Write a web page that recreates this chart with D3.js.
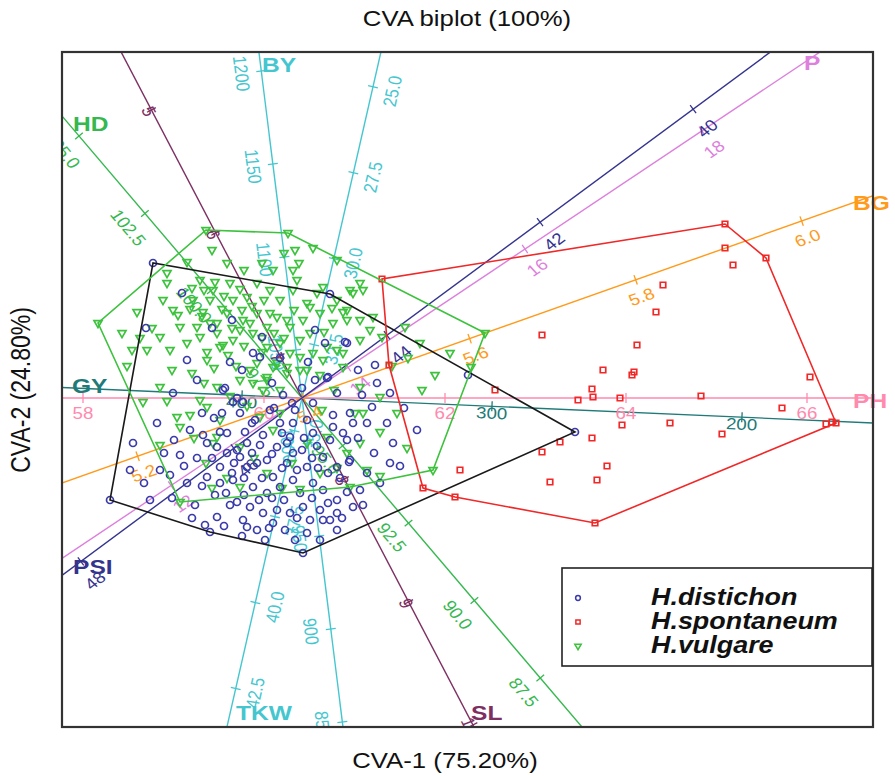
<!DOCTYPE html>
<html>
<head>
<meta charset="utf-8">
<script src="https://cdn.jsdelivr.net/npm/d3@7"></script>
<style>
    body {margin: 0; background: #fff;}
    text {font-family: "Liberation Sans", Arial, sans-serif;}
</style>
</head>
<body>
<svg id="chart" width="895" height="776"></svg>
<script>
// ---- CVA scores per group (CVA-1, CVA-2) ----
const distichon = [
    [-14.9,13.5],[2.8,10.4],[27.3,-3.4],[0.1,-15.5],[-19.2,-10.2],[-9.2,-13.4],
    [-15.6,7.0],[-4.0,6.1],[1.3,6.8],[4.5,5.5],[-4.9,4.5],[-7.2,3.6],[2.5,2.0],
    [-12.9,0.5],[-7.9,0.8],[-6.9,-0.4],[-5.9,-0.4],[1.1,-0.5],[3.1,-1.7],[4.8,-1.5],
    [-9.9,-3.7],[-8.2,-3.4],[-7.5,-3.5],[-5.7,-3.4],[-3.9,-3.7],[-2.2,-2.5],[-0.9,-2.5],[0.5,-2.2],
    [-16.9,-4.5],[-9.5,-4.5],[-8.5,-4.9],[-7.5,-5.5],[-6.5,-5.2],[-5.5,-4.5],[-4.2,-4.7],[-2.5,-4.9],
    [-1.2,-3.9],[1.1,-3.5],[3.1,-2.9],[4.5,-4.2],
    [-13.2,-7.7],[-9.5,-7.9],[-8.2,-6.9],[-6.2,-5.9],[-5.5,-6.9],[-4.5,-6.5],[-3.5,-6.2],[-2.9,-7.9],
    [-0.9,-5.5],[0.5,-6.9],[2.1,-5.9],[3.5,-6.9],[4.8,-6.2],
    [-8.2,-8.5],[-6.9,-8.2],[-4.9,-8.9],[-3.5,-9.5],[-2.2,-8.9],[-0.9,-8.2],[-0.2,-9.5],[1.1,-8.5],[2.1,-9.2],
    [-6.5,-10.4],[-5.2,-10.9],[-3.9,-11.5],[-2.5,-11.2],[-1.2,-11.5],[0.1,-10.9],[1.8,-11.2],[3.5,-10.2],[5.1,-10.9],
    [-8.5,-11.9],[-5.9,-12.2],[-2.9,-12.5],[2.8,-12.2],[-9.7,-12.7],[-5.5,-12.9],[-4.5,-13.2],[0.8,-12.2],
    [2.1,-12.2],[3.5,-11.5],[3.5,-13.2],[1.8,-14.2],
    [5.8,-9.2],[6.5,-7.5],[7.8,-8.5],[8.8,-6.5],[4.1,-3.5],[6.5,-2.5],[8.5,-2.5],[9.1,-4.5],
    [-4.2,4.1],[-7.7,1.0],[-6.5,0.0],[1.3,1.8],[2.6,2.1],[2.3,5.5],[4.3,5.6],[5.6,2.8],[7.3,3.3],[7.5,1.5],
    [7.0,-0.9],[5.1,-2.5],[-7.0,7.8],
    [16.6,2.3],[11.5,-3.2],[4.7,-6.4],[4.5,-9.4],[6.1,-10.7],
    [-1.9,0.3],[-0.7,-1.2],[-3.2,-1.2],[-4.7,-2.2],[-12.2,-5.7],[-11.2,-3.2],[-14.2,-7.2],[-1.7,-13.2],
    [-0.7,-14.2],[-3.7,-14.2],[-7.2,-10.7],[-8.7,-9.7],[-10.7,-10.7],[-15.2,-10.2],[-17.2,-7.2],
    [-10.5,-6.0],[-11.5,-8.5],[-3.0,-10.0],[0.5,-13.5],[-1.5,-6.5],[1.5,-4.8],[-6.0,-13.8],[-2.0,-3.5],
    [0.2,-4.0],[3.8,-8.0],[-8.0,-1.5],[-10.0,-1.5],[-5.0,-2.5],
    [-6.8,-6.5],[-5.0,-5.5],[-3.0,-5.6],[-1.5,-4.5],[0.0,-5.2],[1.0,-6.0],[2.6,-7.5],[-7.0,-7.5],
    [-5.8,-8.0],[-4.0,-8.0],[-2.0,-7.0],[-0.5,-7.2],[1.6,-7.0],[2.8,-4.2],[-9.0,-6.0],[-10.0,-8.8],
    [-7.6,-9.5],[-5.8,-9.7],[-4.3,-10.2],[-1.8,-10.2],[-0.5,-12.0],[1.0,-10.0],[2.6,-10.5],[4.0,-12.0],
    [-3.3,-13.0],[-7.8,-12.8],[-11.0,-12.0],[-13.0,-10.0],[-12.8,-4.2],[-14.5,-2.5],[-10.5,1.8],[-6.0,2.8],
    [-3.0,1.5],[-1.0,-0.5],[0.0,1.0],[3.5,0.5],[6.0,0.3],[8.8,0.5],[10.2,-1.0],[9.8,-6.8],[7.2,-5.5],
    [5.6,-4.0],[-2.8,-1.0],[-8.8,-2.0],[-6.2,-1.5],[-11.8,-6.8],[-13.8,-5.5],[-15.8,-8.5],[-2.2,4.0],
    [0.6,3.6],[-11.5,3.8],[-9.0,7.0],[-12.0,10.5]
]

const spontaneum = [
    [8.0,11.9],[8.7,3.3],[12.1,-9.0],[15.3,-9.9],[29.3,-12.5],[42.3,17.4],[46.4,14.0],[53.4,-2.5],
    [52.4,-2.6],[53.0,-2.4],[42.3,15.0],[43.1,13.3],[36.1,11.3],[35.4,8.6],[33.5,5.3],[33.0,2.3],[33.2,2.6],
    [24.0,6.3],[30.1,2.8],[29.0,0.9],[29.1,0.1],[27.6,-0.2],[31.8,0.0],[19.3,0.8],[39.9,0.2],[50.8,2.1],
    [48.0,-1.0],[36.8,-2.5],[42.0,-3.6],[32.0,-2.7],[29.0,-4.0],[25.8,-4.4],[24.0,-5.4],[30.5,-6.8],
    [15.8,-7.2],[24.8,-8.4],[29.5,-8.2]
]

const vulgare = [
    [-20.4,7.5],[-9.6,16.8],[-1.4,16.5],[18.3,6.5],[13.1,-7.2],[-12.2,-10.4],[4.8,-8.9],
    [-16.5,8.6],[-13.9,9.8],[-13.5,11.5],[-12.4,8.3],[-10.9,9.8],[-9.9,8.6],[-12.2,7.1],[-10.5,7.1],
    [-8.5,7.5],[-7.5,8.5],[-6.9,9.8],[-5.5,10.1],[-4.5,8.5],[-8.9,10.8],[-7.2,11.5],[-4.5,11.5],
    [-3.2,10.8],[-2.2,9.8],[-0.9,10.8],[0.5,9.5],[2.1,11.1],[3.5,9.8],[4.8,10.8],
    [-17.0,4.8],[-15.5,4.8],[-14.2,6.1],[-13.2,4.8],[-11.5,5.5],[-10.2,6.1],[-9.5,3.8],[-8.2,5.1],
    [-6.9,5.8],[-6.2,6.8],[-4.9,6.5],[-3.5,7.1],[-2.5,8.1],[-1.2,7.1],[0.1,7.8],[1.8,8.5],[3.1,7.5],[4.5,7.8],
    [-3.5,5.1],[-2.2,5.5],[-1.2,4.5],[-0.2,5.8],[1.1,4.5],[2.5,5.1],[4.1,4.5],[-4.5,3.5],[-2.9,3.1],
    [-1.5,3.1],[-0.2,2.8],
    [-14.2,1.1],[-15.9,-0.4],[-12.5,-1.9],[-11.2,-1.7],[-12.2,-2.9],[-8.5,1.1],[-6.2,1.8],[-4.9,1.5],
    [-3.5,1.8],[-2.2,0.8],[-10.2,-0.2],
    [-8.5,-3.9],[-6.2,-4.9],[-4.2,-1.9],[-2.2,-1.5],[0.5,-4.5],[2.5,-3.9],[4.5,-5.5],[-6.2,-8.9],
    [-3.5,-7.5],[1.8,-7.5],
    [-0.7,14.8],[1.1,15.0],[-0.9,12.8],[-2.9,12.8],[-0.5,11.8],[-13.5,12.5],[-10.2,11.8],[-8.7,11.6],
    [3.5,13.8],[-12.9,8.8],[-9.2,9.8],[-5.9,7.8],[-9.2,7.5],[-8.5,6.5],[-7.9,5.3],[-9.5,4.6],[-3.2,8.5],
    [-1.5,7.8],[0.8,9.1],[5.1,10.5],[6.1,10.8],[4.5,8.8],[5.8,7.8],[6.8,6.8],[8.0,6.1],
    [3.5,4.8],[2.1,3.8],[-0.2,4.1],[-1.5,2.5],[-2.5,3.5],[-3.5,2.1],[-5.2,2.8],[-3.9,0.8],[-9.5,-0.9],
    [-8.2,-2.2],[0.5,2.8],[1.8,2.3],[5.8,1.1],[4.1,3.1],[7.8,0.1],[6.1,-1.5],[7.8,-3.4],[5.8,-4.5],
    [5.8,11.5],[4.1,8.6],[7.1,8.1],[5.8,5.8],[10.6,4.0],[13.3,2.3],[16.9,3.1],[10.3,7.1],[5.3,-1.5],
    [6.5,-7.2],[7.8,-7.8],[-0.2,-9.1],[-8.9,-4.5],[-2.9,-3.2],[-14.2,-4.7],
    [-11.0,11.0],[-9.8,10.8],[-7.8,10.2],[-6.2,10.9],[-5.0,9.2],[-3.8,9.8],[-6.0,8.8],[-8.0,8.9],
    [-10.0,8.2],[-11.2,8.9],[-7.0,7.0],[-5.2,7.5],[-4.0,6.0],[-5.8,5.2],[-7.4,4.3],[-8.8,3.0],[-6.6,3.2],
    [-4.0,4.6],[-2.8,6.5],[-1.8,6.0],[-0.8,8.8],[0.8,6.5],[2.2,6.6],[3.0,9.0],[1.5,10.5],[-0.3,13.5],
    [-1.8,14.5],[-4.0,13.5],[-5.8,12.8],[-7.5,13.5],[-9.0,14.8],[-11.5,13.6],[-15.0,7.0],[-16.2,6.0],
    [-18.0,6.5],[-17.5,3.2],[-13.0,2.8],[-11.0,2.5],[-9.8,1.5],[-7.2,0.2],[-5.5,-0.8],[-13.5,-0.3],
    [-10.8,-4.0],[-9.6,-6.5],[-7.5,-8.0],[-4.8,-6.0],[-1.0,-6.5],[2.0,-1.2],[3.2,0.8],[9.0,3.2],
    [11.8,5.5],[14.8,4.5],[12.0,0.8],[9.5,-1.5],[10.5,-5.0],[3.5,-7.0],[-2.0,-9.0],[-9.0,-9.0]
]

const group_names = ["H.distichon", "H.spontaneum", "H.vulgare"]

// ---- calibrated biplot axes ----
// angle: direction of increasing values (deg, CVA space); origin: value at the centre;
// units: CVA units per unit of the variable
const axis_names   = ["BY", "TKW", "HD", "SL", "GY", "PH", "BG", "P", "PSI"]
const axis_angles  = [97.1, -102.85, 130.4, -62.4, 177.5, 0, 19.5, 33.74, -143.55]
const axis_origins = [1024.2, 34.05, 96.54, 7.342, 376, 60.42, 5.398, 13.48, 45.11]
const axis_units   = [0.1874, 3.527, 4.067, 13.88, 0.2502, 9.05, 88.05, 10.64, 9.515]
const axis_ticks   = [
    [850, 900, 950, 1000, 1050, 1100, 1150, 1200],
    [25, 27.5, 30, 32.5, 35, 37.5, 40, 42.5],
    [87.5, 90, 92.5, 95, 97.5, 100, 102.5, 105],
    [5, 6, 7, 8, 9, 10],
    [200, 300, 400],
    [58, 60, 62, 64, 66],
    [5.2, 5.4, 5.6, 5.8, 6.0],
    [12, 14, 16, 18],
    [40, 42, 44, 46, 48]
]
const axis_formats = ["d", ".1f", ".1f", "d", "d", "d", ".1f", "d", "d"]

// ---- styles ----
const axis_colors = ["#45c6cf", "#45c6cf", "#35b84f", "#7d2f62", "#1f7a78", "#ff8aae", "#ff9a1a", "#dd80dd", "#34348f"]
const label_side  = [-20, -20, -22, 3, -7, 15, 18, 22, -24]   // tick label offset along the normal (px)
const name_offset = [[3,20], [9,-7], [11,15], [-3,-7], [10,5], [-20,10], [-20,14], [-16,18], [11,-1]]
const group_colors = ["#3a3aaa", "#f02828", "#3cc23c"]
const hull_colors  = ["#1a1a1a", "#f02828", "#3cc23c"]

const SX = 1.17  // the reference picture is stretched horizontally

const frame = {left: 62, top: 52, right: 873, bottom: 727}
const svg = d3.select("#chart")

const x = d3.scaleLinear().domain([-24, 57.1]).range([frame.left, frame.right])
const y = d3.scaleLinear().domain([-32.9, 34.6]).range([frame.bottom, frame.top])

// transform for a horizontally stretched text at screen angle deg
function place(px, py, deg) {
    let r = deg * Math.PI / 180
    let d2 = Math.atan2(Math.sin(r), Math.cos(r) / SX) * 180 / Math.PI
    return `translate(${px},${py}) scale(${SX},1) rotate(${d2})`
}

svg.append("defs").append("clipPath").attr("id", "clip")
    .append("rect")
    .attr("x", frame.left).attr("y", frame.top)
    .attr("width", frame.right - frame.left).attr("height", frame.bottom - frame.top)

// ---- axes ----
let g_axes = svg.append("g").attr("clip-path", "url(#clip)")
let g_names = svg.append("g")

axis_names.forEach((name, i) => {
    let a = axis_angles[i] * Math.PI / 180
    let u = [Math.cos(a), Math.sin(a)]
    let pt = t => [x(t * u[0]), y(t * u[1])]
    let su = [Math.cos(a), -Math.sin(a)]   // screen direction
    let sn = [Math.sin(a), Math.cos(a)]    // screen normal
    let col = axis_colors[i]
    let fmt = d3.format(axis_formats[i])

    let [p0, p1] = [pt(-150), pt(150)]
    g_axes.append("line")
        .attr("x1", p0[0]).attr("y1", p0[1]).attr("x2", p1[0]).attr("y2", p1[1])
        .attr("stroke", col).attr("stroke-width", 1.4)

    let deg = Math.atan2(su[1], su[0]) * 180 / Math.PI
    if (deg > 90) deg -= 180
    if (deg <= -90) deg += 180

    axis_ticks[i].forEach(v => {
        let [px, py] = pt((v - axis_origins[i]) * axis_units[i])
        g_axes.append("line")
            .attr("x1", px - 5 * sn[0]).attr("y1", py - 5 * sn[1])
            .attr("x2", px + 5 * sn[0]).attr("y2", py + 5 * sn[1])
            .attr("stroke", col).attr("stroke-width", 1.3)
        g_axes.append("text")
            .attr("transform", place(px + label_side[i] * sn[0], py + label_side[i] * sn[1], deg))
            .attr("text-anchor", "middle").attr("dominant-baseline", "central")
            .attr("font-size", 16).attr("fill", col)
            .text(fmt(v))
    })

    // axis name where the axis leaves the frame on its increasing side
    let cx = x(0), cy = y(0)
    let tx = su[0] > 0 ? (frame.right - cx) / su[0] : (frame.left - cx) / su[0]
    let ty = su[1] > 0 ? (frame.bottom - cy) / su[1] : (frame.top - cy) / su[1]
    if (!isFinite(tx)) tx = Infinity
    if (!isFinite(ty)) ty = Infinity
    let tm = Math.min(tx, ty)
    let ex = cx + tm * su[0], ey = cy + tm * su[1]
    g_names.append("text")
        .attr("transform", place(ex + name_offset[i][0], ey + name_offset[i][1], 0))
        .attr("font-size", 21).attr("font-weight", "bold").attr("fill", col)
        .text(name)
})

// ---- points ----
const groups = [distichon, spontaneum, vulgare]
const symbols = [
    d3.symbol().type(d3.symbolCircle).size(38),
    d3.symbol().type(d3.symbolSquare).size(30),
    d3.symbol().type(d3.symbolTriangle).size(28)
]
const rotations = [0, 0, 180]

let g_pts = svg.append("g").attr("clip-path", "url(#clip)")
;[2, 0, 1].forEach(k => {
    g_pts.append("g").selectAll("path")
        .data(groups[k]).join("path")
        .attr("d", symbols[k]())
        .attr("transform", d => `translate(${x(d[0])},${y(d[1])}) rotate(${rotations[k]})`)
        .attr("fill", "none").attr("stroke", group_colors[k]).attr("stroke-width", 1.7)
})

// ---- convex hulls ----
groups.forEach((pts, k) => {
    let hull = d3.polygonHull(pts.map(d => [x(d[0]), y(d[1])]))
    svg.append("path")
        .attr("d", "M" + hull.join("L") + "Z")
        .attr("fill", "none").attr("stroke", hull_colors[k]).attr("stroke-width", 1.6)
})

// ---- frame ----
svg.append("rect")
    .attr("x", frame.left).attr("y", frame.top)
    .attr("width", frame.right - frame.left).attr("height", frame.bottom - frame.top)
    .attr("fill", "none").attr("stroke", "#333").attr("stroke-width", 2.2)

// ---- legend ----
let lg = svg.append("g")
lg.append("rect")
    .attr("x", 562).attr("y", 568).attr("width", 310).attr("height", 98)
    .attr("fill", "#fff").attr("stroke", "#222").attr("stroke-width", 1.6)
group_names.forEach((name, k) => {
    let yy = 598 + k * 24
    lg.append("path")
        .attr("d", d3.symbol().type([d3.symbolCircle, d3.symbolSquare, d3.symbolTriangle][k]).size(18)())
        .attr("transform", `translate(578,${yy}) rotate(${rotations[k]})`)
        .attr("fill", "none").attr("stroke", group_colors[k]).attr("stroke-width", 1.5)
    lg.append("text")
        .attr("transform", place(651, yy + 7, 0))
        .attr("font-size", 23).attr("font-weight", "bold").attr("font-style", "italic")
        .attr("fill", "#111")
        .text(name)
})

// ---- titles ----
svg.append("text").attr("transform", place(467, 26, 0))
    .attr("text-anchor", "middle").attr("font-size", 22).attr("fill", "#111")
    .text("CVA biplot (100%)")
svg.append("text").attr("transform", place(445, 768, 0))
    .attr("text-anchor", "middle").attr("font-size", 22).attr("fill", "#111")
    .text("CVA-1  (75.20%)")
svg.append("text").attr("transform", place(30, 390, -90))
    .attr("text-anchor", "middle").attr("font-size", 23).attr("fill", "#111")
    .text("CVA-2  (24.80%)")
</script>
</body>
</html>
